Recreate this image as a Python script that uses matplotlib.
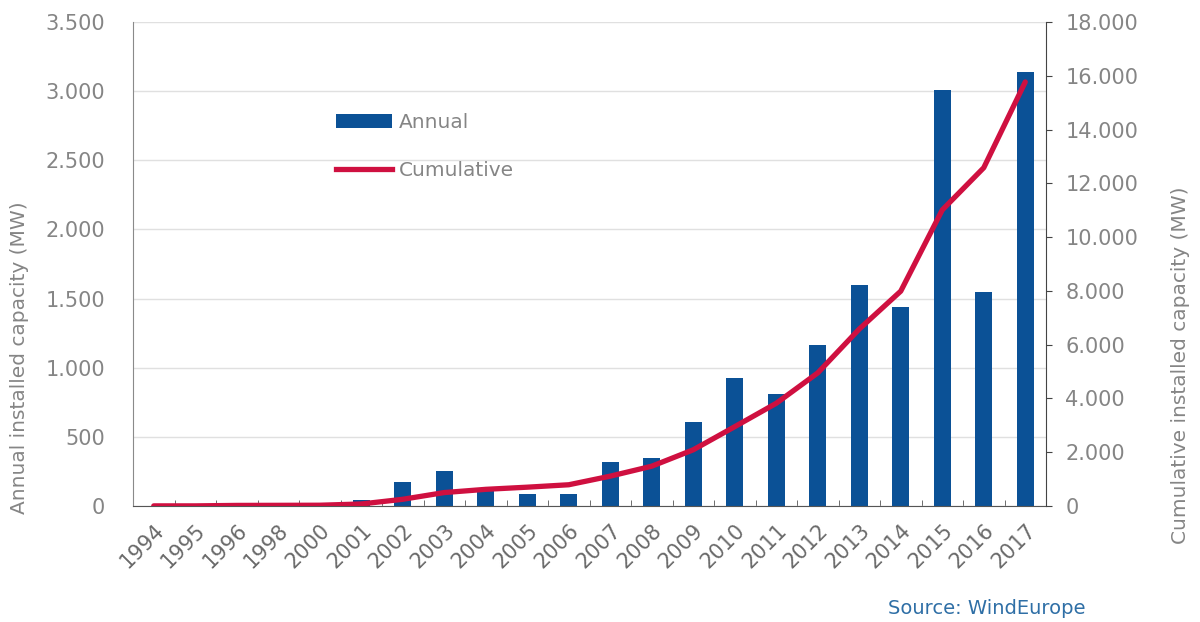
import numpy as np
from matplotlib import pyplot as plt
from matplotlib.patches import Patch
from matplotlib.lines import Line2D

years = ['1994', '1995', '1996', '1998', '2000', '2001', '2002', '2003', '2004', '2005', '2006',
         '2007', '2008', '2009', '2010', '2011', '2012', '2013', '2014', '2015', '2016', '2017']
annual = [3, 0, 5, 2, 4, 45, 170, 253, 115, 85, 87,
          318, 345, 607, 923, 807, 1162, 1600, 1441, 3008, 1550, 3138]
cumulative = [5, 5, 22, 25, 29, 75, 250, 500, 620, 700, 790,
              1110, 1480, 2090, 2950, 3820, 4950, 6580, 7990, 11010, 12580, 15770]

left_ticks = [0, 500, 1000, 1500, 2000, 2500, 3000, 3500]
right_ticks = [0, 2000, 4000, 6000, 8000, 10000, 12000, 14000, 16000, 18000]

bar_col = '#0b5196'
line_col = '#cf1040'
txt_col = '#858585'

def dotted(v):
    return '{:,}'.format(int(v)).replace(',', '.')

fig = plt.figure(figsize=(12, 6.22), dpi=100)
ax = fig.add_axes([133/1200, 1-506/622, (1046-133)/1200, (506-22)/622])
x = np.arange(len(years))

ax.bar(x, annual, width=0.41, color=bar_col, zorder=2)
ax.set_xlim(-0.5, len(years)-0.5)
ax.set_ylim(0, 3500)
ax.set_yticks(left_ticks)
ax.set_yticklabels([dotted(v) for v in left_ticks])
ax.tick_params(axis='y', length=0, pad=20, labelsize=15, labelcolor=txt_col)
ax.grid(axis='y', color='#e0e0e0', linewidth=1, zorder=0)
ax.set_axisbelow(True)

ax.set_xticks(x)
ax.set_xticklabels(years, rotation=45, ha='right', va='top', rotation_mode='anchor')
ax.set_xticks(x[:-1] + 0.5, minor=True)
ax.tick_params(axis='x', which='major', length=0, pad=10, labelsize=15, labelcolor='#6a6a6a')
ax.tick_params(axis='x', which='minor', direction='in', length=4, color='#555555')

ax.spines['top'].set_visible(False)
ax.spines['right'].set_visible(False)
ax.spines['left'].set_color('#8a8a8a')
ax.spines['bottom'].set_color('#555555')

ax2 = ax.twinx()
ax2.plot(x, cumulative, color=line_col, linewidth=3.8, solid_capstyle='round', zorder=3)
ax2.set_ylim(0, 18000)
ax2.set_yticks(right_ticks)
ax2.set_yticklabels([dotted(v) for v in right_ticks])
ax2.tick_params(axis='y', direction='out', length=4, color='#444444', pad=10,
                labelsize=15, labelcolor=txt_col)
ax2.spines['top'].set_visible(False)
ax2.spines['left'].set_visible(False)
ax2.spines['bottom'].set_visible(False)
ax2.spines['right'].set_color('#444444')

fig.text(20/1200, 1-358/622, 'Annual installed capacity (MW)', rotation=90,
         ha='center', va='center', fontsize=14.5, color=txt_col)
fig.text(1180/1200, 1-365/622, 'Cumulative installed capacity (MW)', rotation=90,
         ha='center', va='center', fontsize=14.5, color=txt_col)

handles = [Patch(facecolor=bar_col), Line2D([0], [0], color=line_col, linewidth=3.8)]
ax2.legend(handles, ['Annual', 'Cumulative'], loc='upper left',
           bbox_to_anchor=(336/1200, 1-113/622), bbox_transform=fig.transFigure,
           frameon=False, fontsize=14.5, labelcolor=txt_col, handlelength=2.8,
           handleheight=0.7, handletextpad=0.3, labelspacing=1.45,
           borderpad=0, borderaxespad=0)

fig.text(1085/1200, 1-608/622, 'Source: WindEurope', ha='right', va='center',
         fontsize=14, color='#2f6fa6')

fig.savefig('out.png', dpi=100)
